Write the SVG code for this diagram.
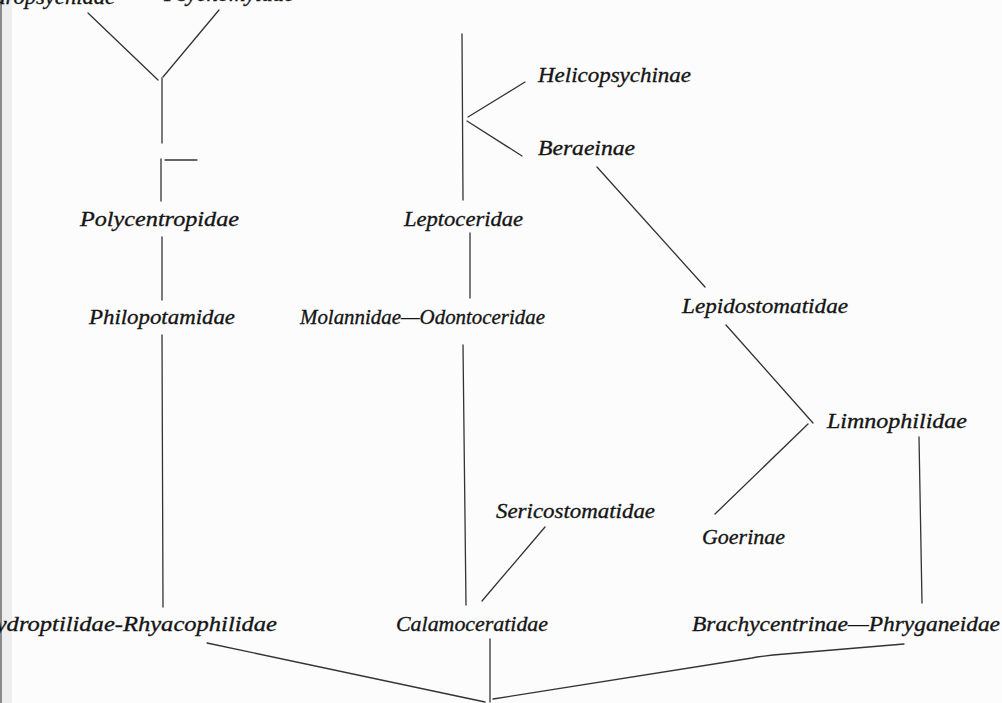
<svg xmlns="http://www.w3.org/2000/svg" width="1002" height="703" viewBox="0 0 1002 703">
<style>
.bg{fill:#fcfcfc}
.lbl{font-family:"Liberation Serif","DejaVu Serif",serif;font-style:italic;font-size:22px;fill:#151515;stroke:#151515;stroke-width:0.35}
.ln{stroke:#333;stroke-width:1.3;fill:none;stroke-linecap:round}
</style>
<rect class="bg" x="0" y="0" width="1002" height="703"/>
<rect x="0" y="0" width="2" height="703" fill="#8a8a8a"/>
<rect x="2" y="0" width="10" height="703" fill="#eeeeee"/>
<g id="connectors">
<line class="ln" x1="88" y1="13" x2="158" y2="80"/>
<line class="ln" x1="219" y1="10" x2="163" y2="77"/>
<line class="ln" x1="162" y1="78" x2="162" y2="143"/>
<line class="ln" x1="161" y1="159" x2="161" y2="201"/>
<line class="ln" x1="165" y1="160" x2="197" y2="160"/>
<line class="ln" x1="162" y1="237" x2="162" y2="300"/>
<line class="ln" x1="162" y1="335" x2="163" y2="607"/>
<line class="ln" x1="462" y1="34" x2="463" y2="200"/>
<line class="ln" x1="468" y1="117" x2="525" y2="82"/>
<line class="ln" x1="467" y1="121" x2="522" y2="156"/>
<line class="ln" x1="597" y1="167" x2="705" y2="287"/>
<line class="ln" x1="470" y1="233" x2="470" y2="298"/>
<line class="ln" x1="463" y1="345" x2="466" y2="605"/>
<line class="ln" x1="545" y1="527" x2="482" y2="601"/>
<line class="ln" x1="490" y1="639" x2="490" y2="702"/>
<line class="ln" x1="726" y1="325" x2="813" y2="423"/>
<line class="ln" x1="808" y1="424" x2="715" y2="514"/>
<line class="ln" x1="919" y1="437" x2="922" y2="603"/>
<line class="ln" x1="207" y1="643" x2="485" y2="702"/>
<polyline class="ln" points="493,699 752,658 757,657 773,655 904,644"/>
</g>
<g id="n-hydropsychidae"><text class="lbl" x="-32" y="4" textLength="147" lengthAdjust="spacingAndGlyphs">Hydropsychidae</text></g>
<g id="n-psychomyidae"><text class="lbl" x="164" y="1" textLength="130" lengthAdjust="spacingAndGlyphs">Psychomyidae</text></g>
<g id="n-helicopsychinae"><text class="lbl" x="538" y="82" textLength="153" lengthAdjust="spacingAndGlyphs">Helicopsychinae</text></g>
<g id="n-beraeinae"><text class="lbl" x="538" y="155" textLength="97" lengthAdjust="spacingAndGlyphs">Beraeinae</text></g>
<g id="n-polycentropidae"><text class="lbl" x="80" y="226" textLength="159" lengthAdjust="spacingAndGlyphs">Polycentropidae</text></g>
<g id="n-leptoceridae"><text class="lbl" x="404" y="226" textLength="119" lengthAdjust="spacingAndGlyphs">Leptoceridae</text></g>
<g id="n-philopotamidae"><text class="lbl" x="89" y="324" textLength="146" lengthAdjust="spacingAndGlyphs">Philopotamidae</text></g>
<g id="n-molannidae-odontoceridae"><text class="lbl" x="300" y="324" textLength="245" lengthAdjust="spacingAndGlyphs">Molannidae—Odontoceridae</text></g>
<g id="n-lepidostomatidae"><text class="lbl" x="682" y="313" textLength="166" lengthAdjust="spacingAndGlyphs">Lepidostomatidae</text></g>
<g id="n-limnophilidae"><text class="lbl" x="827" y="428" textLength="140" lengthAdjust="spacingAndGlyphs">Limnophilidae</text></g>
<g id="n-sericostomatidae"><text class="lbl" x="496" y="518" textLength="159" lengthAdjust="spacingAndGlyphs">Sericostomatidae</text></g>
<g id="n-goerinae"><text class="lbl" x="702" y="544" textLength="83" lengthAdjust="spacingAndGlyphs">Goerinae</text></g>
<g id="n-hydroptilidae-rhyacophilidae"><text class="lbl" x="-22" y="631" textLength="299" lengthAdjust="spacingAndGlyphs">Hydroptilidae-Rhyacophilidae</text></g>
<g id="n-calamoceratidae"><text class="lbl" x="396" y="631" textLength="152" lengthAdjust="spacingAndGlyphs">Calamoceratidae</text></g>
<g id="n-brachycentrinae-phryganeidae"><text class="lbl" x="692" y="631" textLength="308" lengthAdjust="spacingAndGlyphs">Brachycentrinae—Phryganeidae</text></g>
</svg>
